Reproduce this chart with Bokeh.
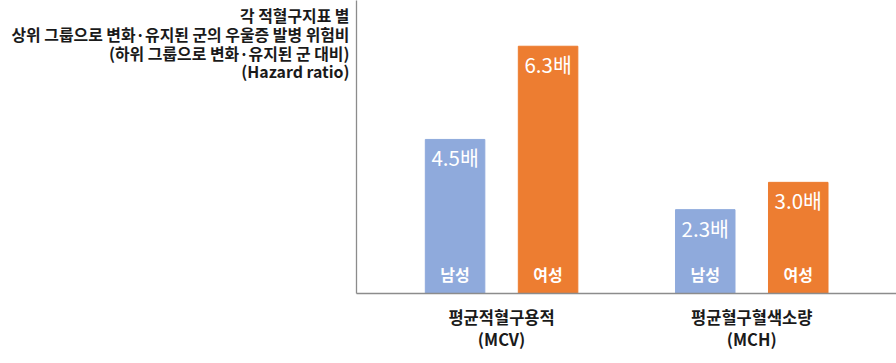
from bokeh.plotting import figure
from bokeh.models import ColumnDataSource, LabelSet, Range1d, FixedTicker
from bokeh.core.properties import value
from bokeh.embed import file_html
from bokeh.resources import INLINE

# ---- data ----
group_line1 = ["평균적혈구용적", "평균혈구혈색소량"]
group_line2 = ["(MCV)", "(MCH)"]
sexes = ["남성", "여성"]
# hazard ratios shown as labels (MCV 남, MCV 여, MCH 남, MCH 여)
hazard_ratio = [4.5, 6.3, 2.3, 3.0]
# drawn bar heights (chart is not strictly to scale)
bar_height = [3.95, 6.34, 2.15, 2.85]
title_lines = [
    "각 적혈구지표 별",
    "상위 그룹으로 변화·유지된 군의 우울증 발병 위험비",
    "(하위 그룹으로 변화·유지된 군 대비)",
    "(Hazard ratio)",
]
sex_colors = ["#8FAADC", "#ED7D31"]

FONT = value("Noto Sans CJK KR")

# ---- layout ----
W, H = 896, 363
BORDER_L, BORDER_B = 356, 70
PX_X, PX_Y = 93.0, 39.0
frame_w = W - BORDER_L
frame_h = H - BORDER_B

group_first, group_step, bar_w = 1.56, 2.69, 0.64

xs, tops, cols, val_txt, sex_txt = [], [], [], [], []
for g in range(len(group_line1)):
    for s in range(len(sexes)):
        i = g * len(sexes) + s
        xs.append(group_first + g * group_step + (s - 0.5))
        tops.append(bar_height[i])
        cols.append(sex_colors[s])
        val_txt.append(f"{hazard_ratio[i]:.1f}배")
        sex_txt.append(sexes[s])

p = figure(width=W, height=H, output_backend="svg", toolbar_location=None,
           x_range=Range1d(0, frame_w / PX_X),
           y_range=Range1d(0, frame_h / PX_Y),
           min_border_left=BORDER_L, min_border_right=0,
           min_border_top=0, min_border_bottom=BORDER_B)
p.outline_line_color = None
p.xgrid.visible = False
p.ygrid.visible = False
p.background_fill_color = "white"
p.border_fill_color = "white"

gx = [group_first + g * group_step for g in range(len(group_line1))]

# title block: drawn as horizontal y-axis labels near the top, right aligned
ty = [(frame_h - (15 + 18.8 * i)) / PX_Y for i in range(len(title_lines))]
p.yaxis.ticker = FixedTicker(ticks=ty)
p.yaxis.major_label_overrides = {y: t for y, t in zip(ty, title_lines)}
p.yaxis.major_label_orientation = "horizontal"
p.yaxis.major_label_text_font = "Noto Sans CJK KR"
p.yaxis.major_label_text_font_size = "15.9px"
p.yaxis.major_label_text_font_style = "bold"
p.yaxis.major_label_text_color = "#1a1a1a"
p.yaxis.major_label_standoff = 7

p.xaxis.ticker = FixedTicker(ticks=gx)
p.xaxis.major_label_overrides = {x: f"{a}\n{b}" for x, a, b in zip(gx, group_line1, group_line2)}
p.xaxis.major_label_text_font = "Noto Sans CJK KR"
p.xaxis.major_label_text_font_size = "16.5px"
p.xaxis.major_label_text_font_style = "bold"
p.xaxis.major_label_text_color = "#1a1a1a"
p.xaxis.major_label_text_line_height = 0.92
p.xaxis.major_label_standoff = 11
for ax in (p.xaxis[0], p.yaxis[0]):
    ax.axis_line_color = "#8C8C8C"
    ax.axis_line_width = 1.3
    ax.major_tick_line_color = None
    ax.minor_tick_line_color = None
    ax.major_tick_out = 0
    ax.major_tick_in = 0

src = ColumnDataSource(dict(x=xs, top=tops, color=cols, val=val_txt, sex=sex_txt))
p.vbar(x="x", top="top", width=bar_w, color="color", source=src)

p.add_layout(LabelSet(x="x", y="top", text="val", source=src, y_offset=-18,
                      text_align="center", text_baseline="middle",
                      text_color="white", text_font=FONT,
                      text_font_size="20.5px", text_font_style="normal"))
p.add_layout(LabelSet(x="x", y=0, text="sex", source=src, y_offset=20,
                      text_align="center", text_baseline="middle",
                      text_color="white", text_font=FONT,
                      text_font_size="16px", text_font_style="bold"))

open("out.html", "w").write(file_html(p, INLINE))
